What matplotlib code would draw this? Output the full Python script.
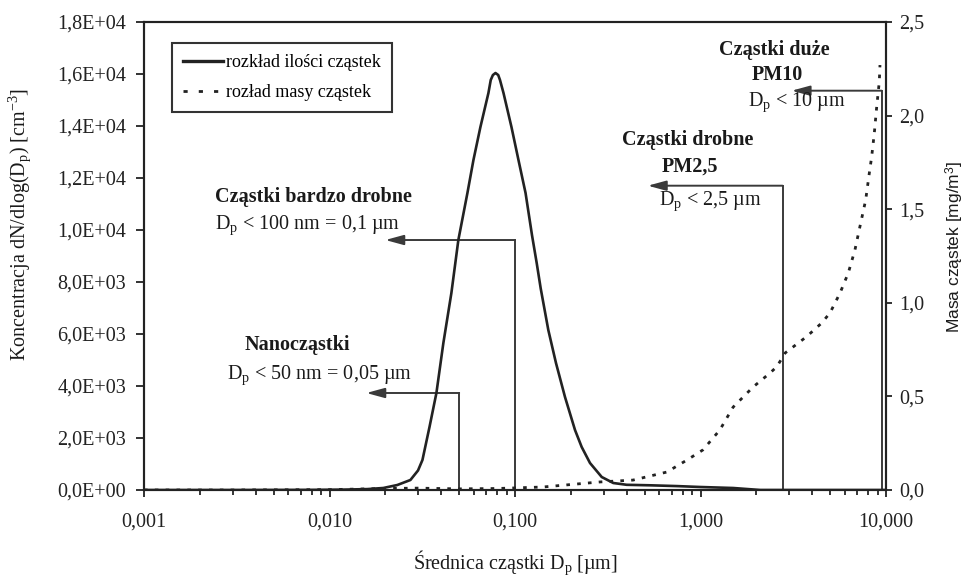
import matplotlib
matplotlib.use("Agg")
import matplotlib.pyplot as plt
from matplotlib.lines import Line2D
from matplotlib.ticker import FixedLocator, FixedFormatter, LogLocator, NullFormatter

plt.rcParams['font.family'] = ['Liberation Serif', 'DejaVu Serif']
plt.rcParams['mathtext.fontset'] = 'custom'
plt.rcParams['mathtext.rm'] = 'Liberation Serif'
plt.rcParams['mathtext.it'] = 'Liberation Serif:italic'
plt.rcParams['mathtext.sf'] = 'Liberation Sans'

# ---- data ----
num_d = [0.001, 0.003, 0.008, 0.012, 0.016, 0.0195, 0.0232, 0.0273, 0.0300, 0.0317,
         0.0346, 0.0377, 0.0411, 0.0454, 0.0495, 0.0554, 0.0597, 0.0651, 0.0719, 0.0740,
         0.0760, 0.0785, 0.0812, 0.0830, 0.0867, 0.0957, 0.1044, 0.1140, 0.1235, 0.1309,
         0.1376, 0.1512, 0.1663, 0.1860, 0.2106, 0.2288, 0.2537, 0.2934, 0.3388, 0.40,
         0.54, 0.75, 1.0, 1.5, 2.1, 3.0, 10.0]
num_N = [0, 0, 5, 15, 35, 77, 192, 385, 750, 1154,
         2423, 3731, 5654, 7577, 9615, 11423, 12692, 13962, 15269, 15769,
         15960, 16038, 15960, 15769, 15269, 13962, 12692, 11423, 9800, 8731,
         7750, 6154, 4885, 3577, 2308, 1654, 1038, 500, 269, 200,
         180, 150, 115, 77, 0, 0, 0]

mass_d = [0.001, 0.003, 0.01, 0.02, 0.03, 0.05, 0.08, 0.1416, 0.287, 0.433,
          0.659, 0.845, 1.03, 1.27, 1.50, 1.92, 2.37, 2.58, 2.86, 3.73,
          4.50, 4.99, 5.65, 6.26, 6.80, 7.17, 7.77, 8.13, 8.37, 8.65,
          8.91, 9.20, 9.28]
mass_M = [0.0, 0.0, 0.002, 0.008, 0.010, 0.006, 0.008, 0.016, 0.043, 0.053,
          0.096, 0.160, 0.214, 0.32, 0.443, 0.550, 0.625, 0.659, 0.732, 0.819,
          0.892, 0.946, 1.052, 1.159, 1.282, 1.389, 1.549, 1.693, 1.780, 1.907,
          2.047, 2.181, 2.270]

# size-class markers: (boundary diameter, arrow height in N, arrow tip diameter)
mark_d = [0.05, 0.1, 2.77, 9.48]
mark_N = [3731, 9615, 11704, 15358]
mark_tip = [0.0158, 0.0200, 0.52, 3.10]

x_ticks = [0.001, 0.01, 0.1, 1.0, 10.0]
x_labels = ["0,001", "0,010", "0,100", "1,000", "10,000"]
yl_ticks = [0, 2000, 4000, 6000, 8000, 10000, 12000, 14000, 16000, 18000]
yl_labels = [f"{v:.1E}".replace('.', ',') for v in yl_ticks]
yr_ticks = [0.0, 0.5, 1.0, 1.5, 2.0, 2.5]
yr_labels = [f"{v:.1f}".replace('.', ',') for v in yr_ticks]

legend_labels = ["rozkład ilości cząstek", "rozład masy cząstek"]

FS = 14.5
fig = plt.figure(figsize=(9.67, 5.78), dpi=100)
ax = fig.add_axes([144/967, 1-490/578, 742/967, 468/578])
ax2 = ax.twinx()

line_col = '#222222'
ann_col = '#3a3a3a'

l1, = ax.plot(num_d, num_N, color=line_col, lw=1.9, solid_joinstyle='round', zorder=5)
l2, = ax2.plot(mass_d, mass_M, color=line_col, lw=2.0, linestyle=(0, (1.3, 2.6)), zorder=5)

for d, n, tip in zip(mark_d, mark_N, mark_tip):
    ax.plot([d, d], [0, n], color=ann_col, lw=1.4, zorder=3)
    ax.annotate('', xy=(tip, n), xytext=(d, n),
                arrowprops=dict(arrowstyle='-|>,head_length=1.1,head_width=0.3',
                                lw=1.4, color=ann_col, shrinkA=0, shrinkB=0),
                zorder=3)

ax.set_xscale('log')
ax.set_xlim(0.001, 10)
ax.set_ylim(0, 18000)
ax2.set_ylim(0, 2.5)

ax.xaxis.set_major_locator(FixedLocator(x_ticks))
ax.xaxis.set_major_formatter(FixedFormatter(x_labels))
ax.xaxis.set_minor_locator(LogLocator(base=10, subs=range(2, 10), numticks=20))
ax.xaxis.set_minor_formatter(NullFormatter())
ax.yaxis.set_major_locator(FixedLocator(yl_ticks))
ax.yaxis.set_major_formatter(FixedFormatter(yl_labels))
ax2.yaxis.set_major_locator(FixedLocator(yr_ticks))
ax2.yaxis.set_major_formatter(FixedFormatter(yr_labels))

ax.tick_params(axis='x', which='major', direction='out', length=5, width=1.3,
               pad=11, labelsize=FS, colors='#222222')
ax.tick_params(axis='x', which='minor', direction='out', length=3.5, width=1.1)
ax.tick_params(axis='y', which='major', direction='out', length=6, width=1.3,
               pad=7, labelsize=FS, colors='#222222')
ax2.tick_params(axis='y', which='major', direction='out', length=4.5, width=1.3,
                pad=5, labelsize=FS, colors='#222222')

for a in (ax, ax2):
    for s in a.spines.values():
        s.set_linewidth(1.5)
        s.set_color('#222222')

h1 = Line2D([], [], color=line_col, lw=2.4)
h2 = Line2D([], [], color=line_col, lw=2.0, linestyle=(0, (1.5, 4.0)))
leg = ax.legend([h1, h2], legend_labels, loc='upper left',
                bbox_to_anchor=((172-144)/742, (490-43)/468), borderaxespad=0,
                fontsize=13, frameon=True, fancybox=False, framealpha=1,
                edgecolor='#333333', handlelength=2.2, handletextpad=0.2,
                borderpad=0.6, labelspacing=0.75)
leg.get_frame().set_linewidth(1.5)
leg.set_zorder(10)

texts = [
    ("Cząstki duże", 0.849, 0.940, True),
    ("PM10", 0.853, 0.887, True),
    (r"D$_\mathrm{p}$ < 10 µm", 0.880, 0.829, False),
    ("Cząstki drobne", 0.733, 0.748, True),
    ("PM2,5", 0.736, 0.690, True),
    (r"D$_\mathrm{p}$ < 2,5 µm", 0.763, 0.618, False),
    ("Cząstki bardzo drobne", 0.228, 0.626, True),
    (r"D$_\mathrm{p}$ < 100 nm = 0,1 µm", 0.220, 0.566, False),
    ("Nanocząstki", 0.206, 0.310, True),
    (r"D$_\mathrm{p}$ < 50 nm = 0,05 µm", 0.237, 0.246, False),
]
for t, fx, fy, bold in texts:
    ax.text(fx, fy, t, transform=ax.transAxes, ha='center', va='center',
            fontsize=FS, fontweight='bold' if bold else 'normal', color='#1a1a1a', zorder=8)

fig.text(515/967, 1-563/578, r"Średnica cząstki D$_\mathrm{p}$ [µm]", ha='center', va='center',
         fontsize=FS, color='#1a1a1a')
fig.text(20/967, 1-224/578, r"Koncentracja dN/dlog(D$_\mathrm{p}$) [cm$^{-3}$]", ha='center',
         va='center', rotation=90, fontsize=FS, color='#1a1a1a')
fig.text(955/967, 1-247/578, r"Masa cząstek [mg/m$^\mathsf{3}$]", ha='center', va='center',
         rotation=90, fontsize=12.5, color='#1a1a1a', family=['Liberation Sans', 'DejaVu Sans'])

fig.savefig("out.png", dpi=100)
